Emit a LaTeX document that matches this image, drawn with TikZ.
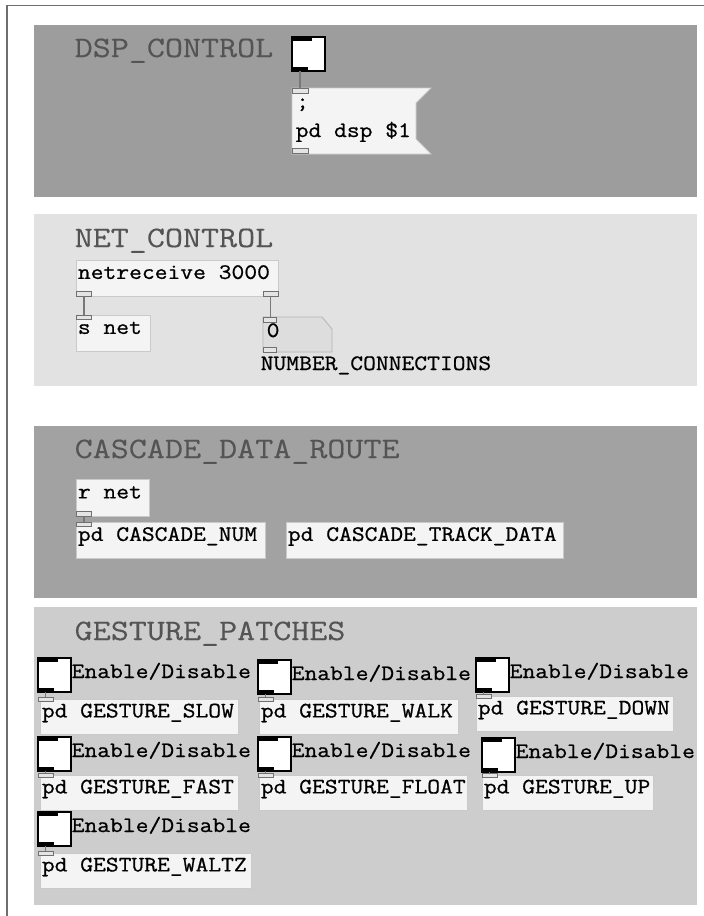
\documentclass[tikz,border=0pt]{standalone}
\usepackage{fontspec}
\newfontfamily\pdmonofamily{Latin Modern Mono}[FakeStretch=1.13,FakeBold=0.8]
\newfontfamily\pdheadfamily{Latin Modern Mono}[FakeStretch=1.18,FakeBold=0.3]
\usetikzlibrary{calc}

\definecolor{panelA}{HTML}{9D9D9D}
\definecolor{panelB}{HTML}{E2E2E2}
\definecolor{panelC}{HTML}{A2A2A2}
\definecolor{panelD}{HTML}{CDCDCD}
\definecolor{boxfill}{HTML}{F4F4F4}
\definecolor{boxline}{HTML}{CACACA}
\definecolor{numfill}{HTML}{DDDDDD}
\definecolor{numline}{HTML}{B3B3B3}
\definecolor{ioletfill}{HTML}{E4E4E4}
\definecolor{ioletline}{HTML}{707070}
\definecolor{wiregray}{HTML}{787878}
\definecolor{titlegray}{HTML}{545454}
\definecolor{framegray}{HTML}{6E6E6E}

% fixed-pitch spacing: a space is exactly one character cell wide
\newcommand\fixspaces{\fontdimen2\font=\fontcharwd\font`a\relax
  \fontdimen3\font=0pt\relax\fontdimen4\font=0pt\relax}
\newcommand\pdtext{\pdmonofamily\fontsize{22}{25}\selectfont\fixspaces}
\newcommand\pdhead{\pdheadfamily\fontsize{29.7}{32}\selectfont\fixspaces}
% box contents, flush left in a box of the given width
\newcommand\inbox[2]{\makebox[\dimexpr#1pt-3pt\relax][l]{#2}}

% bang object: square with inlet bar on top and outlet bar below
\newcommand\pdbang[3]{%
  \node[bang] (#1) at (#2,#3) {};
  \fill (#1.north west) rectangle ++(20,4);
  \fill (#1.south west) rectangle ++(16,-4);
}

% toggle bang + caption + subpatch box fed by it
\newcommand\gest[7]{%
  \pdbang{#1b}{#2}{#3}
  \node[lbl] (#1l) at (#2+33.5,#3+20) {Enable/Disable};
  \node[pdbox] (#1p) at (#4,#5) {\inbox{#6}{pd GESTURE\_#7}};
  \node[iolet] (#1i) at (#2,#5-2) {};
  \draw[wire] (#1i.north |- #1b.south) -- (#1i.north);
}

\begin{document}
\begin{tikzpicture}[x=1pt,y=-1pt,
  panel/.style={anchor=north west, inner sep=0pt, outer sep=0pt, draw=none},
  ttl/.style={anchor=base west, inner sep=0pt, text=titlegray, font=\pdhead},
  lbl/.style={anchor=base west, inner sep=0pt, text=black, font=\pdtext},
  pdbox/.style={anchor=north west, fill=boxfill, draw=boxline, line width=0.8pt,
    inner xsep=1.5pt, inner ysep=0pt, text height=9pt, text depth=8pt,
    minimum height=35pt, font=\pdtext},
  iolet/.style={anchor=north west, minimum width=15pt, minimum height=4.5pt,
    inner sep=0pt, outer sep=0pt, fill=ioletfill, draw=ioletline, line width=0.9pt},
  wire/.style={draw=wiregray, line width=1.8pt},
  bang/.style={anchor=north west, minimum width=33pt, minimum height=34pt,
    inner sep=0pt, outer sep=0pt, fill=white, draw=black, line width=1.6pt},
]
\useasboundingbox (0,0) rectangle (704,916);
\fill[white] (0,0) rectangle (704,916);
\draw[framegray, line width=1.5pt] (7,916) -- (7,5.5) -- (704,5.5);

% canvas sections
\node[panel, fill=panelA, minimum width=663pt, minimum height=172pt] (dsp) at (34,25) {};
\node[panel, fill=panelB, minimum width=663pt, minimum height=172pt] (net) at (34,214) {};
\node[panel, fill=panelC, minimum width=663pt, minimum height=172pt] (casc) at (34,426) {};
\node[panel, fill=panelD, minimum width=663pt, minimum height=298pt] (gest) at (34,607) {};

\node[ttl] (dspt) at (74.5,57) {DSP\_CONTROL};
\node[ttl] (nett) at (74.5,247) {NET\_CONTROL};
\node[ttl] (casct) at (74.5,458) {CASCADE\_DATA\_ROUTE};
\node[ttl] (gestt) at (74.5,640) {GESTURE\_PATCHES};

% ---- DSP_CONTROL
\pdbang{dspb}{292}{37}
\node[anchor=north west, minimum width=139pt, minimum height=66pt, inner sep=0pt, outer sep=0pt] (msg) at (292,88) {};
\filldraw[fill=boxfill, draw=boxline, line width=0.8pt]
  (msg.north west) -- (msg.north east) -- ($(msg.north east)+(-15,15)$)
  -- ($(msg.south east)+(-15,-15)$) -- (msg.south east) -- (msg.south west) -- cycle;
\node[lbl] (msga) at (296,108) {;};
\node[lbl] (msgb) at (295.5,137) {pd dsp \$1};
\node[iolet, minimum width=16pt] (msgi) at (292,88.5) {};
\node[iolet, minimum width=16pt] (msgo) at (292,148.5) {};
\draw[wire] (msgi.north |- dspb.south) -- (msgi.north);

% ---- NET_CONTROL
\node[pdbox, minimum height=36pt] (nr) at (76,260) {\inbox{202}{netreceive 3000}};
\node[pdbox, minimum height=36pt] (snet) at (76,315) {\inbox{74}{s net}};
\node[anchor=north west, minimum width=69pt, minimum height=35pt, inner sep=0pt, outer sep=0pt] (num) at (263,317) {};
\filldraw[fill=numfill, draw=numline, line width=0.8pt]
  (num.north west) -- ($(num.north east)+(-10,0)$) -- ($(num.north east)+(0,12)$)
  -- (num.south east) -- (num.south west) -- cycle;
\node[lbl] (numv) at (266.5,337) {0};
\node[lbl] (numl) at (260.5,370) {NUMBER\_CONNECTIONS};
\node[iolet] (nro) at (76.5,291.5) {};
\node[iolet] (nrr) at (263,291.5) {};
\node[iolet] (sneti) at (76.5,315) {};
\node[iolet, minimum width=13pt] (numi) at (263,317.5) {};
\node[iolet, minimum width=13pt] (numo) at (263,347.5) {};
\draw[wire] (nro.south) -- (sneti.north);
\draw[wire] (nrr.south) -- (nrr.south |- numi.north);

% ---- CASCADE_DATA_ROUTE
\node[pdbox, minimum height=37pt] (rnet) at (76,479) {\inbox{73}{r net}};
\node[pdbox, minimum height=36pt] (cnum) at (76,522) {\inbox{189}{pd CASCADE\_NUM}};
\node[pdbox, minimum height=36pt] (ctrack) at (286,522) {\inbox{277}{pd CASCADE\_TRACK\_DATA}};
\node[iolet] (rneto) at (76.5,511.5) {};
\node[iolet] (cnumi) at (76.5,522) {};
\draw[wire] (rneto.south) -- (cnumi.north);

% ---- GESTURE_PATCHES
\gest{slow}{38}{658}{40}{699}{198}{SLOW}
\gest{walk}{258}{660}{259}{699}{199}{WALK}
\gest{down}{476}{658}{476}{696}{197}{DOWN}
\gest{fast}{38}{737}{40}{775}{198}{FAST}
\gest{float}{258}{737}{259}{775}{208}{FLOAT}
\gest{up}{482}{738}{482}{775}{171}{UP}
\gest{waltz}{38}{812}{40}{853}{211}{WALTZ}
\end{tikzpicture}
\end{document}
